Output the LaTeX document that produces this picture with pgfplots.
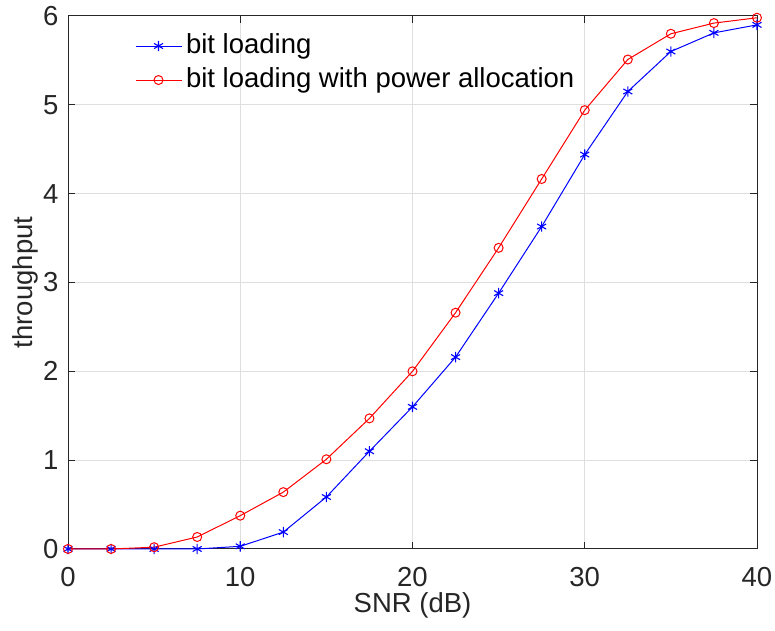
\documentclass[border=0pt]{standalone}
\usepackage{fontspec}
\setmainfont{Liberation Sans}
\usepackage{pgfplots}
\pgfplotsset{compat=1.18}
\definecolor{axgray}{RGB}{38,38,38}
\definecolor{gridgray}{RGB}{223,223,223}
\begin{document}
\fontsize{13.75}{16.5}\selectfont
\begin{tikzpicture}
\begin{axis}[
  scale only axis, width=344.5pt, height=266.5pt,
  xmin=0, xmax=40, ymin=0, ymax=6,
  xtick={0,10,20,30,40}, ytick={0,1,2,3,4,5,6},
  grid=major, major grid style={color=gridgray, line width=0.5pt},
  axis line style={color=axgray, line width=0.5pt},
  tick style={color=axgray, line width=0.5pt},
  tick align=inside, major tick length=3.5pt,
  ticklabel style={font=\fontsize{13.75}{16.5}\selectfont, color=axgray},
  xticklabel style={yshift=-4.5pt},
  /pgf/number format/assume math mode=true,
  xlabel={SNR (dB)}, ylabel={throughput},
  label style={font=\fontsize{13.75}{16.5}\selectfont, color=axgray},
  x label style={at={(axis description cs:0.5,-0.105)}, anchor=center},
  y label style={at={(axis description cs:-0.0624,0.5)}, anchor=center},
  clip=false,
  legend style={at={(axis description cs:0.088,0.982)}, anchor=north west, draw=none, fill=none,
    font=\fontsize{13.75}{16.5}\selectfont, row sep=1pt},
  legend cell align=left,
  legend image code/.code={\draw[mark repeat=2,mark phase=2] plot coordinates {(0pt,0pt)(11.5pt,0pt)(23pt,0pt)};},
]
\addplot[color=blue, line width=0.5pt, mark=asterisk, mark size=2.6pt, mark options={line width=0.55pt}] coordinates {
(0,0) (2.5,0) (5,0) (7.5,0) (10,0.03) (12.5,0.19) (15,0.585) (17.5,1.10) (20,1.60)
(22.5,2.16) (25,2.88) (27.5,3.63) (30,4.44) (32.5,5.15) (35,5.60) (37.5,5.81) (40,5.90)};
\addlegendentry{bit loading}
\addplot[color=red, line width=0.5pt, mark=o, mark size=2.25pt, mark options={line width=0.5pt}] coordinates {
(0,0) (2.5,0) (5,0.02) (7.5,0.135) (10,0.375) (12.5,0.64) (15,1.01) (17.5,1.47) (20,2.00)
(22.5,2.66) (25,3.39) (27.5,4.165) (30,4.94) (32.5,5.51) (35,5.80) (37.5,5.92) (40,5.98)};
\addlegendentry{bit loading with power allocation}
\end{axis}
\pgfresetboundingbox
\path ([shift={(-34pt,-41pt)}]current axis.south west) rectangle ([shift={(9pt,8pt)}]current axis.north east);
\end{tikzpicture}
\end{document}
